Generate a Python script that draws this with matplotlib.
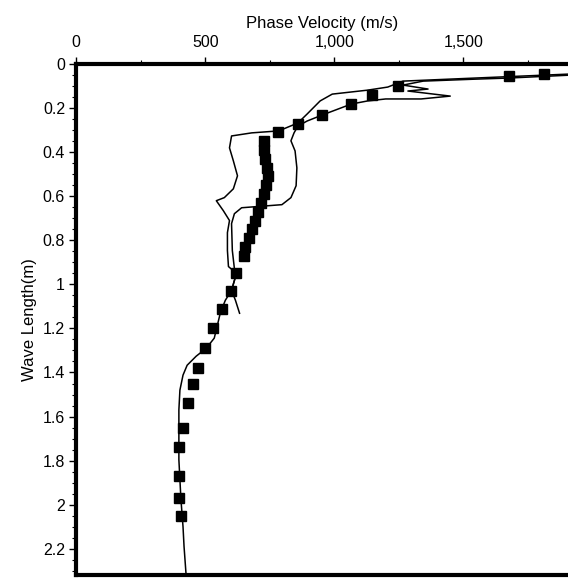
import matplotlib.pyplot as plt
from matplotlib.ticker import MultipleLocator, FuncFormatter

# Observed points (square markers): phase velocity (m/s) vs wave length (m)
obsVel = [1812, 1676, 1246, 1145, 1066, 953, 859, 781,
          727, 727, 730, 738, 742, 734, 727, 715, 703, 691, 680, 668, 656,
          652, 621, 598, 566, 531, 500, 473, 453, 434, 414, 398, 398, 398, 406]
obsLen = [0.045, 0.054, 0.10, 0.14, 0.18, 0.23, 0.27, 0.31,
          0.35, 0.39, 0.43, 0.47, 0.51, 0.55, 0.59, 0.63, 0.67, 0.71, 0.75, 0.79, 0.83,
          0.87, 0.95, 1.03, 1.11, 1.20, 1.29, 1.38, 1.45, 1.54, 1.65, 1.74, 1.87, 1.97, 2.05]

# Curve 1 (left branch, runs to the bottom)
c1Vel = [1910, 1547, 1266, 1207, 1129, 992, 945, 895, 859, 785, 680, 602, 594, 609,
         625, 609, 574, 543, 570, 594, 586, 586, 590, 621, 602, 578, 559, 547, 535,
         504, 465, 430, 414, 402, 398, 398, 398, 406, 414, 418, 426]
c1Len = [0.045, 0.063, 0.077, 0.104, 0.118, 0.136, 0.167, 0.226, 0.267, 0.303, 0.312,
         0.326, 0.38, 0.439, 0.507, 0.566, 0.606, 0.62, 0.665, 0.71, 0.765, 0.846,
         0.919, 0.95, 1.027, 1.072, 1.127, 1.186, 1.244, 1.29, 1.326, 1.367, 1.412,
         1.48, 1.57, 1.692, 1.796, 1.977, 2.1, 2.19, 2.32]

# Curve 2 (right branch, ends near 1.13 m)
c2Vel = [1910, 1676, 1547, 1344, 1266, 1363, 1285, 1449, 1336, 1199, 1129, 1066, 953,
         895, 859, 844, 832, 848, 855, 852, 832, 797, 641, 613, 602, 605, 613, 621,
         602, 617, 633]
c2Len = [0.05, 0.063, 0.068, 0.077, 0.095, 0.113, 0.122, 0.145, 0.158, 0.158, 0.167,
         0.181, 0.231, 0.258, 0.281, 0.312, 0.348, 0.394, 0.471, 0.552, 0.606, 0.638,
         0.652, 0.679, 0.724, 0.846, 0.928, 0.95, 1.027, 1.072, 1.131]

xTicks = [0, 500, 1000, 1500]
yTicks = [0, 0.2, 0.4, 0.6, 0.8, 1, 1.2, 1.4, 1.6, 1.8, 2, 2.2]

plt.rcParams['font.family'] = ['Liberation Sans', 'DejaVu Sans']

fig = plt.figure(figsize=(5.68, 5.78), dpi=100)
ax = fig.add_axes([0.134, 0.005, 0.866, 0.884])

ax.plot(c1Vel, c1Len, color='black', linewidth=1.1)
ax.plot(c2Vel, c2Len, color='black', linewidth=1.1)
ax.plot(obsVel, obsLen, linestyle='none', marker='s', markersize=7.5,
        color='black')

ax.set_xlim(0, 1905)
ax.set_ylim(2.32, 0)

# x axis on top
ax.xaxis.tick_top()
ax.xaxis.set_label_position('top')
ax.set_xticks(xTicks)
ax.xaxis.set_major_formatter(FuncFormatter(lambda v, p: f'{int(v):,}'))
ax.xaxis.set_minor_locator(MultipleLocator(250))
ax.set_yticks(yTicks)
ax.set_yticklabels([f'{t:g}' for t in yTicks])
ax.yaxis.set_minor_locator(MultipleLocator(0.05))

ax.tick_params(which='major', direction='out', length=5, width=1, labelsize=11.5, pad=3)
ax.tick_params(axis='x', which='major', pad=5)
ax.tick_params(which='minor', direction='out', length=3, width=0.8)

ax.set_xlabel('Phase Velocity (m/s)', fontsize=12, labelpad=5)
ax.set_ylabel('Wave Length(m)', fontsize=12, labelpad=4)

for side in ['left', 'top', 'bottom']:
    ax.spines[side].set_linewidth(3)
ax.spines['right'].set_visible(False)

fig.savefig('out.png', dpi=100)
